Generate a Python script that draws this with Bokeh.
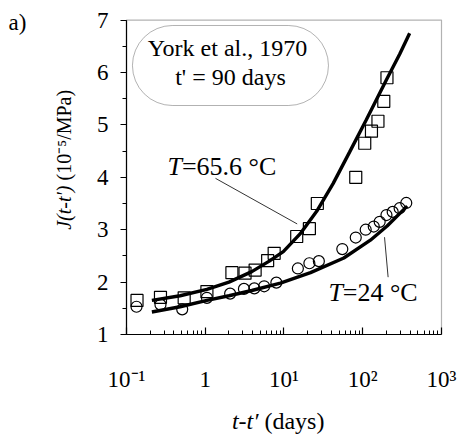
from math import pi
from bokeh.plotting import figure
from bokeh.models import (FixedTicker, SingleIntervalTicker, Label, BoxAnnotation,
                          Range1d, LogAxis, LinearAxis)
from bokeh.embed import file_html
from bokeh.resources import INLINE

# ---- data ----
sq_t = [0.136, 0.27, 0.54, 1.05, 2.18, 3.2, 4.3, 6.2, 7.5, 14.5, 21, 26.5, 81.5, 106, 129, 156, 185, 203]
sq_J = [1.65, 1.71, 1.70, 1.82, 2.18, 2.17, 2.23, 2.41, 2.55, 2.87, 3.02, 3.50, 4.00, 4.65, 4.88, 5.07, 5.45, 5.90]

ci_t = [0.134, 0.27, 0.51, 1.05, 2.07, 3.1, 4.2, 5.6, 8.0, 15, 21, 27.7, 55, 81.5, 109, 138, 164, 200, 240, 294, 357]
ci_J = [1.53, 1.57, 1.48, 1.70, 1.78, 1.87, 1.88, 1.92, 1.99, 2.26, 2.36, 2.40, 2.63, 2.85, 3.00, 3.06, 3.15, 3.28, 3.34, 3.41, 3.51]

fit_hi_t = [0.21, 0.48, 1.05, 2.0, 3.9, 6.5, 9.8, 16, 26, 42, 68, 111, 200, 294, 394]
fit_hi_J = [1.65, 1.74, 1.86, 2.00, 2.20, 2.40, 2.58, 2.92, 3.35, 3.88, 4.48, 5.10, 5.86, 6.35, 6.75]

fit_lo_t = [0.21, 0.48, 1.05, 2.0, 3.9, 9.0, 21.7, 57.5, 125, 204, 367]
fit_lo_J = [1.43, 1.53, 1.65, 1.74, 1.84, 1.98, 2.18, 2.46, 2.80, 3.07, 3.45]

x_ticks = [0.1, 1, 10, 100, 1000]
x_tick_labels = ["10\u207b\u00b9", "1", "10\u00b9", "10\u00b2", "10\u00b3"]
y_ticks_interval = 1

FONT = "Liberation Serif"

# The frame spans the whole canvas; the axes are pinned (fixed_location) so that
# the titles outside the data box can be drawn as ordinary labels.
X_LO, X_HI = 0.1, 1000
Y_LO, Y_HI = 1, 7
p = figure(width=462, height=436, x_axis_type="log",
           x_range=Range1d(10 ** -2.6, 10 ** 3.2667), y_range=Range1d(-0.9466, 7.374),
           x_axis_location=None, y_axis_location=None,
           output_backend="svg", toolbar_location=None, min_border=0)
p.grid.visible = False
p.outline_line_color = None
p.background_fill_color = "white"
p.border_fill_color = "white"

minor = []
for d in [0.1, 1, 10, 100]:
    for k in range(2, 10):
        minor.append(d * k)

xaxis = LogAxis(fixed_location=Y_LO, bounds=(X_LO, X_HI),
                ticker=FixedTicker(ticks=x_ticks, minor_ticks=minor),
                major_label_overrides={v: s for v, s in zip(x_ticks, x_tick_labels)},
                major_tick_in=7, major_tick_out=0, minor_tick_in=4, minor_tick_out=0,
                major_label_standoff=33)
yaxis = LinearAxis(fixed_location=X_LO, bounds=(Y_LO, Y_HI),
                   ticker=SingleIntervalTicker(interval=y_ticks_interval, num_minor_ticks=2),
                   major_tick_in=0, major_tick_out=6, minor_tick_in=0, minor_tick_out=4,
                   major_label_standoff=12)
for ax in (xaxis, yaxis):
    ax.axis_line_color = "black"
    ax.axis_line_width = 1.2
    ax.major_tick_line_color = "black"
    ax.minor_tick_line_color = "black"
    ax.major_tick_line_width = 1.2
    ax.major_label_text_font = FONT
    ax.major_label_text_font_size = "23px"
    ax.major_label_text_color = "black"
p.add_layout(xaxis, "below")
p.add_layout(yaxis, "left")

# data box border (top / right sides)
p.add_layout(BoxAnnotation(left=X_LO, right=X_HI, bottom=Y_LO, top=Y_HI,
                           fill_alpha=0, line_color="black", line_width=1.2))

# curves
p.line(fit_hi_t, fit_hi_J, line_width=3.4, color="black")
p.line(fit_lo_t, fit_lo_J, line_width=3.4, color="black")

# data points
p.scatter(sq_t, sq_J, marker="square", size=12, fill_color=None, line_color="black", line_width=1.2)
p.scatter(ci_t, ci_J, marker="circle", size=11, fill_color=None, line_color="black", line_width=1.2)

# leader lines
p.line([1.35, 14.7], [3.98, 3.11], line_width=1, color="#333333")
p.line([189, 210], [2.857, 2.094], line_width=1, color="#333333")


def lab(x, y, text, italic=False, align="left", baseline="middle", angle=0, size="23px"):
    p.add_layout(Label(x=x, y=y, text=text, text_font=FONT, text_font_size=size,
                       text_font_style="italic" if italic else "normal",
                       text_align=align, text_baseline=baseline, angle=angle,
                       text_color="black"))

# rounded box
p.add_layout(BoxAnnotation(left=0.119, right=36.7, top=6.897, bottom=5.37,
                           fill_alpha=0, line_color="black", line_width=1,
                           border_radius=40))
lab(2.09, 6.458, "York et  al., 1970", align="center", size="24px")
lab(2.09, 5.905, "t' = 90 days", align="center", size="24px")

# temperature labels
lab(0.332, 4.206, "T", italic=True, size="26px")
lab(0.505, 4.206, "=65.6 \u00b0C", size="26px")
lab(36.7, 1.80, "T", italic=True, size="26px")
lab(55.8, 1.80, "=24 \u00b0C", size="26px")

# panel letter
lab(0.00318, 6.954, "a)")

# axis titles
lab(0.01585, 3.843, "J(t-t\u2032)", italic=True, align="right", angle=pi / 2, size="20px")
lab(0.01585, 3.939, "(10\u207b\u2075/MPa)", align="left", angle=pi / 2, size="20px")
lab(4.74, -0.66, "t-t\u2032", italic=True, align="right", size="24px")
lab(5.65, -0.66, "(days)", align="left", size="24px")

open("out.html", "w").write(file_html(p, INLINE))
